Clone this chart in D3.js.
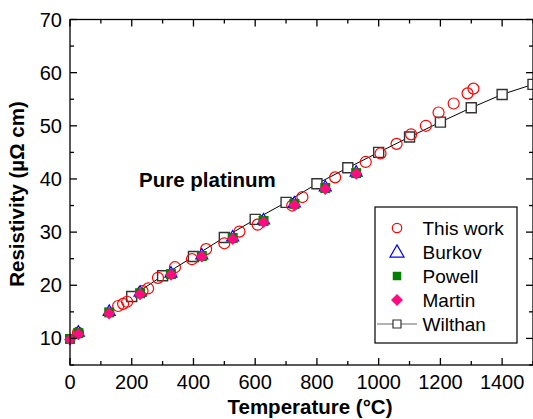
<!DOCTYPE html>
<html>
<head>
<meta charset="utf-8">
<script src="https://cdn.jsdelivr.net/npm/d3@7"></script>
<style>
  body { margin: 0; background: #fff; }
  text { font-family: "Liberation Sans", Arial, sans-serif; }
</style>
</head>
<body>
<svg width="533" height="419"></svg>
<script>
// temperature (°C) / resistivity (µΩ cm)
let thisWork = [[26, 11.1], [156, 16.1], [172, 16.5], [185, 16.9], [235, 18.9], [253, 19.4], [285, 21.4],
  [340, 23.4], [395, 24.9], [441, 26.8], [500, 27.9], [549, 30.1], [608, 31.4], [720, 35.0], [753, 36.6],
  [859, 40.3], [958, 43.2], [1006, 44.8], [1058, 46.6], [1105, 48.4], [1153, 50.0], [1194, 52.5],
  [1243, 54.2], [1288, 56.1], [1307, 57.0]]
let burkov = [[27, 11.1], [127, 15.0], [227, 18.6], [327, 22.2], [427, 25.6], [527, 29.0], [627, 32.2],
  [727, 35.4], [827, 38.4], [927, 41.2]]
let powell = [[0, 9.9], [27, 11.0], [127, 14.9], [227, 18.5], [327, 22.1], [427, 25.5], [527, 28.9],
  [627, 32.1], [727, 35.3], [827, 38.3], [927, 41.1]]
let martin = [[0, 9.8], [27, 10.8], [127, 14.7], [227, 18.3], [327, 22.0], [427, 25.4], [527, 28.7],
  [627, 31.9], [727, 35.1], [827, 38.1], [927, 41.0]]
let wilthan = [[200, 17.9], [300, 21.8], [400, 25.4], [500, 29.0], [600, 32.4], [700, 35.6], [800, 39.1],
  [900, 42.1], [1000, 45.0], [1100, 47.9], [1200, 50.7], [1300, 53.4], [1400, 55.9], [1500, 57.8]]
let xTicks = [0, 200, 400, 600, 800, 1000, 1200, 1400]
let yTicks = [10, 20, 30, 40, 50, 60, 70]
let legendNames = ["This work", "Burkov", "Powell", "Martin", "Wilthan"]

var svg = d3.select('svg')
var x = d3.scaleLinear().domain([0, 1500]).range([70, 533])
var y = d3.scaleLinear().domain([5, 70]).range([365, 19.5])

// shape paths centred on 0,0
function shape(type, s) {
  if (type == 'tri') return `M0,${-s * 0.58}L${s / 2},${s * 0.29}L${-s / 2},${s * 0.29}Z`
  if (type == 'dia') return `M0,${-s / 2}L${s / 2},0L0,${s / 2}L${-s / 2},0Z`
  if (type == 'sq') return `M${-s / 2},${-s / 2}h${s}v${s}h${-s}Z`
}

// Wilthan line + squares
svg.append('path').datum(wilthan)
  .attr('d', d3.line().x(d => x(d[0])).y(d => y(d[1])))
  .attr('fill', 'none').attr('stroke', '#000').attr('stroke-width', 1)
svg.selectAll('.wil').data(wilthan).enter().append('path')
  .attr('transform', d => `translate(${x(d[0])},${y(d[1])})`)
  .attr('d', shape('sq', 10)).attr('fill', '#fff').attr('stroke', '#333').attr('stroke-width', 1.4)

svg.selectAll('.tw').data(thisWork).enter().append('circle')
  .attr('cx', d => x(d[0])).attr('cy', d => y(d[1])).attr('r', 5.5)
  .attr('fill', 'none').attr('stroke', '#ff0000').attr('stroke-width', 1.2)

svg.selectAll('.bu').data(burkov).enter().append('path')
  .attr('transform', d => `translate(${x(d[0])},${y(d[1])})`)
  .attr('d', shape('tri', 12)).attr('fill', '#fff').attr('stroke', '#0000ff').attr('stroke-width', 1.2)

svg.selectAll('.po').data(powell).enter().append('path')
  .attr('transform', d => `translate(${x(d[0])},${y(d[1])})`)
  .attr('d', shape('sq', 10)).attr('fill', '#008000')

svg.selectAll('.ma').data(martin).enter().append('path')
  .attr('transform', d => `translate(${x(d[0])},${y(d[1])})`)
  .attr('d', shape('dia', 12)).attr('fill', '#ff0a80')

// axes, ticks pointing inward on all four sides
var axG = svg.append('g').attr('stroke', '#000').attr('stroke-width', 1.3)
axG.append('rect').attr('x', x(0)).attr('y', y(70)).attr('width', x(1500) - x(0)).attr('height', y(5) - y(70))
  .attr('fill', 'none')
d3.range(0, 1501, 100).forEach(t => {
  let len = t % 200 == 0 ? 7 : 4
  axG.append('line').attr('x1', x(t)).attr('x2', x(t)).attr('y1', y(5)).attr('y2', y(5) - len)
  axG.append('line').attr('x1', x(t)).attr('x2', x(t)).attr('y1', y(70)).attr('y2', y(70) + len)
})
d3.range(5, 71, 5).forEach(v => {
  let len = v % 10 == 0 ? 7 : 4
  axG.append('line').attr('x1', x(0)).attr('x2', x(0) + len).attr('y1', y(v)).attr('y2', y(v))
  axG.append('line').attr('x1', x(1500)).attr('x2', x(1500) - len).attr('y1', y(v)).attr('y2', y(v))
})

svg.selectAll('.xl').data(xTicks).enter().append('text')
  .attr('x', d => x(d)).attr('y', 389).attr('text-anchor', 'middle')
  .attr('font-size', 20).text(d => d)
svg.selectAll('.yl').data(yTicks).enter().append('text')
  .attr('x', 62).attr('y', d => y(d) + 7).attr('text-anchor', 'end')
  .attr('font-size', 20).text(d => d)

svg.append('text').attr('x', 310).attr('y', 414).attr('text-anchor', 'middle')
  .attr('font-size', 20.5).attr('font-weight', 'bold').text('Temperature (°C)')
svg.append('text').attr('transform', 'translate(24,194) rotate(-90)').attr('text-anchor', 'middle')
  .attr('font-size', 20.5).attr('font-weight', 'bold').text('Resistivity (µΩ cm)')
svg.append('text').attr('x', 139).attr('y', 187)
  .attr('font-size', 20.5).attr('font-weight', 'bold').text('Pure platinum')

// legend
var lg = svg.append('g')
lg.append('rect').attr('x', 375).attr('y', 207).attr('width', 142).attr('height', 136)
  .attr('fill', '#fff').attr('stroke', '#000').attr('stroke-width', 1.2)
let ly = d => 228 + d * 24
lg.append('circle').attr('cx', 397).attr('cy', ly(0)).attr('r', 4.7)
  .attr('fill', 'none').attr('stroke', '#ff0000').attr('stroke-width', 1.2)
lg.append('path').attr('transform', `translate(397,${ly(1) + 1})`).attr('d', shape('tri', 14))
  .attr('fill', '#fff').attr('stroke', '#0000ff').attr('stroke-width', 1.2)
lg.append('path').attr('transform', `translate(397,${ly(2)})`).attr('d', shape('sq', 8.5)).attr('fill', '#008000')
lg.append('path').attr('transform', `translate(397,${ly(3)})`).attr('d', shape('dia', 12)).attr('fill', '#ff0a80')
lg.append('line').attr('x1', 377).attr('x2', 417).attr('y1', ly(4)).attr('y2', ly(4))
  .attr('stroke', '#666').attr('stroke-width', 1.2)
lg.append('path').attr('transform', `translate(397,${ly(4)})`).attr('d', shape('sq', 8))
  .attr('fill', '#fff').attr('stroke', '#333').attr('stroke-width', 1.2)
lg.selectAll('.lt').data(legendNames).enter().append('text')
  .attr('x', 422.5).attr('y', (d, i) => ly(i) + 7).attr('font-size', 19).text(d => d)
</script>
</body>
</html>
